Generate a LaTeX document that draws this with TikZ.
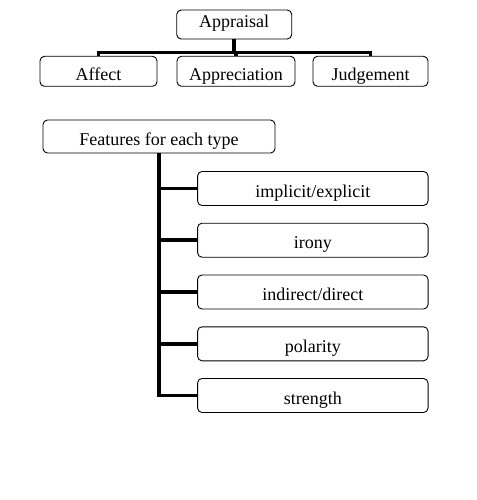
\documentclass[tikz,border=0pt]{standalone}
\usepackage{fontspec}
\setmainfont{Liberation Serif}
\begin{document}
\begin{tikzpicture}[x=1pt,y=-1pt,
  box/.style={draw=black,line width=0.9pt,rounded corners=4.5pt,inner sep=0pt,
    text depth=0pt,font=\fontsize{18}{20}\selectfont},
  conn/.style={line width=3.5pt,black}]
\useasboundingbox (0,0) rectangle (476,500);
\node[box,minimum width=115pt,minimum height=29pt,text height=7pt] (app) at (234.2,24.5) {Appraisal};
\node[box,minimum width=117pt,minimum height=30pt,text height=19pt] (aff) at (98.5,71.3) {Affect};
\node[box,minimum width=118pt,minimum height=30pt,text height=19pt] (apr) at (236,71.3) {Appreciation};
\node[box,minimum width=115pt,minimum height=30pt,text height=19pt] (jud) at (370.5,71.3) {Judgement};
\coordinate (bus) at (235,52.5);
\draw[conn] (app.south) -- (app.south |- bus);
\draw[conn] (aff.north) -- (aff.north |- bus) -- (jud.north |- bus) -- (jud.north);
\draw[conn] (apr.north) -- (apr.north |- bus);
\node[box,minimum width=232pt,minimum height=33pt,text height=17pt] (feat) at (159,136.5) {Features for each type};
\foreach \n/\yy/\t in {s1/188.5/implicit\slash explicit, s2/240.2/irony, s3/292/indirect\slash direct, s4/343.8/polarity, s5/395.5/strength}{
  \node[box,minimum width=230.5pt,minimum height=34pt,text height=17pt] (\n) at (312.8,\yy) {\t};
}
\draw[conn] (feat.south) |- (s5.west);
\foreach \n in {s1,s2,s3,s4}{
  \draw[conn] (feat.south |- \n.west) -- (\n.west);
}
\end{tikzpicture}
\end{document}
